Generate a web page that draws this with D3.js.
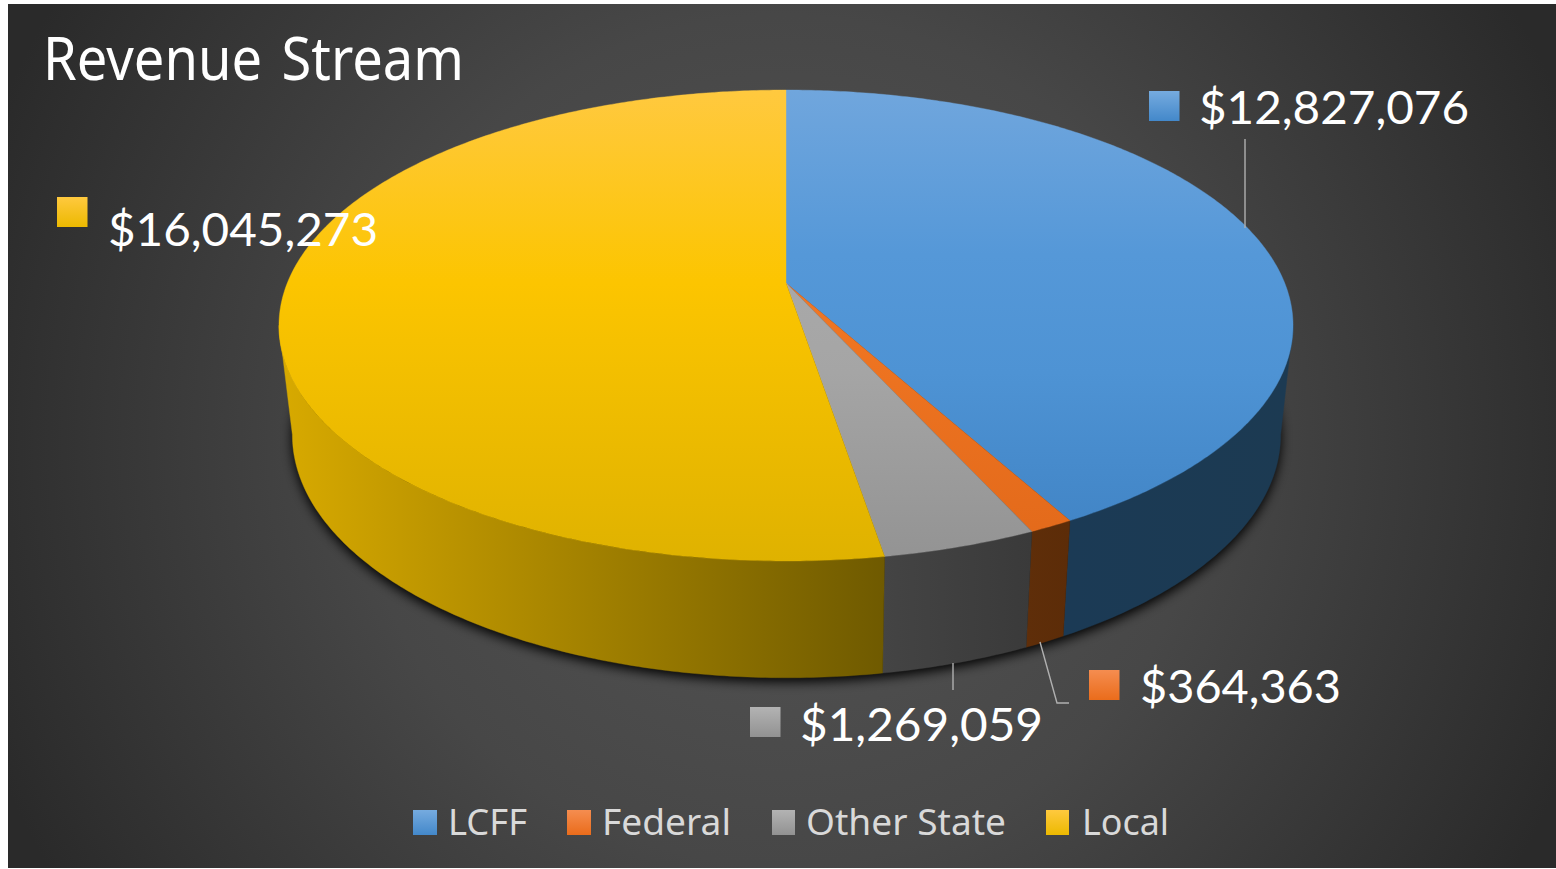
<!DOCTYPE html>
<html><head><meta charset="utf-8">
<script src="https://cdn.jsdelivr.net/npm/d3@7/dist/d3.min.js"></script>
<style>html,body{margin:0;padding:0;background:#fff;overflow:hidden}svg{display:block}</style>
</head><body><svg id="c" width="1556" height="869"></svg>
<script>
const categories = ["LCFF","Federal","Other State","Local"];
const values = [12827076,364363,1269059,16045273];
const valueLabels = ["$12,827,076","$364,363","$1,269,059","$16,045,273"];
const title = "Revenue Stream";

const topColors = [
 [["0","#70a6dd"],["0.35","#5598d8"],["0.6","#4e93d4"],["1","#3f82c3"]],
 [["0","#f4853f"],["0.5","#ef7522"],["1","#e2691a"]],
 [["0","#b0b0b0"],["0.6","#a5a5a5"],["1","#939393"]],
 [["0","#ffc93f"],["0.41","#fcc500"],["1","#dfb200"]]
];
const sideColors = [["#1b3a55","#1c3a52"],["#5f2e09","#5c2c08"],["#444444","#3a3a3a"],["#d8aa00","#6f5a00"]];
const swatchColors = [["#76abdf","#4388ca"],["#f58d50","#ea6c1b"],["#b3b3b3","#929292"],["#ffc93f","#ecb900"]];

const labelBoxes = [
 {sw:[1149,91],tx:1199,ty:124,w:270},
 {sw:[1089,670],tx:1140,ty:703,w:201},
 {sw:[750,707],tx:800,ty:741,w:243},
 {sw:[57,197],tx:108,ty:246,w:270}
];
const leaders = [
 [[1245,139],[1245,228]],
 [[1040,642],[1057,703],[1069,703]],
 [[953,663],[953,690]]
];
const legendBoxes = [
 {sx:413,sw:24,tx:448,w:79},
 {sx:567,sw:24,tx:602,w:129},
 {sx:772,sw:23,tx:806,w:200},
 {sx:1046,sw:23,tx:1082,w:87}
];

const svg = d3.select("#c");
const defs = svg.append("defs");

function linGrad(id, stops, attrs){
  const g = defs.append("linearGradient").attr("id",id);
  Object.entries(attrs).forEach(([k,v])=>g.attr(k,v));
  stops.forEach(s=>g.append("stop").attr("offset",s[0]).attr("stop-color",s[1]));
}
const bg = defs.append("radialGradient").attr("id","bg")
  .attr("gradientUnits","userSpaceOnUse").attr("cx",782).attr("cy",440).attr("r",850);
[[0,"#555555"],[0.5,"#474747"],[1,"#2a2a2a"]].forEach(s=>bg.append("stop").attr("offset",s[0]).attr("stop-color",s[1]));
defs.append("filter").attr("id","blur").attr("x","-10%").attr("y","-10%").attr("width","120%").attr("height","120%")
  .append("feGaussianBlur").attr("stdDeviation",6);

svg.append("rect").attr("x",8).attr("y",4).attr("width",1548).attr("height",864).attr("fill","url(#bg)");

// perspective projection of the pie's disc
const K = 0.1805;
const topDisc = {cx:786, cy:283, a:498.7, b:227.8};
const botDisc = {cx:786.5, cy:391, a:486, b:235};
const project = (d, ang) => {
  const u = Math.sin(ang), v = Math.cos(ang), w = 1 + K*v;
  return [d.cx + d.a*u/w, d.cy - d.b*v/w];
};
const arcPts = (d, a0, a1) => {
  const n = Math.max(2, Math.ceil((a1-a0)/0.01));
  return d3.range(n+1).map(i => project(d, a0 + (a1-a0)*i/n));
};
const line = d3.line();
const arcs = d3.pie().sort(null).startAngle(0).endAngle(2*Math.PI)(values);

// shadow
const full = arcPts(botDisc, 0, 2*Math.PI);
svg.append("path").attr("d", line(full.map(p=>[p[0],p[1]+4]))+"Z").attr("fill","#000").attr("opacity",1).attr("filter","url(#blur)");

// side walls
const vis0 = Math.acos(-K), vis1 = 2*Math.PI - vis0;
arcs.forEach((d,i)=>{
  const a0 = Math.max(d.startAngle, vis0), a1 = Math.min(d.endAngle, vis1);
  if (a1 <= a0) return;
  const t = arcPts(topDisc,a0,a1), b = arcPts(botDisc,a0,a1).reverse();
  const xs = t.concat(b).map(p=>p[0]);
  linGrad("side"+i, [[0,sideColors[i][0]],[1,sideColors[i][1]]],
    {gradientUnits:"userSpaceOnUse",x1:d3.min(xs),x2:d3.max(xs),y1:0,y2:0});
  svg.append("path").attr("d",line(t.concat(b))+"Z").attr("fill",`url(#side${i})`)
    .attr("stroke",`url(#side${i})`).attr("stroke-width",0.4);
});

// top slices
arcs.forEach((d,i)=>{
  linGrad("top"+i, topColors[i], {gradientUnits:"userSpaceOnUse",x1:0,x2:0,y1:90,y2:561});
  const pts = [[topDisc.cx,topDisc.cy]].concat(arcPts(topDisc,d.startAngle,d.endAngle));
  svg.append("path").attr("d",line(pts)+"Z").attr("fill",`url(#top${i})`)
    .attr("stroke",`url(#top${i})`).attr("stroke-width",0.4);
});

// leaders
leaders.forEach(l=>svg.append("path").attr("d",line(l)).attr("fill","none").attr("stroke","#b0b0b0").attr("stroke-width",1.4));

// swatch gradients
swatchColors.forEach((c,i)=>linGrad("sw"+i,[[0,c[0]],[1,c[1]]],{x1:0,x2:0,y1:0,y2:1}));

// data labels
labelBoxes.forEach((b,i)=>{
  svg.append("rect").attr("x",b.sw[0]).attr("y",b.sw[1]).attr("width",30.5).attr("height",30).attr("fill",`url(#sw${i})`);
  svg.append("text").attr("x",b.tx).attr("y",b.ty).text(valueLabels[i])
    .attr("font-family","Lato").attr("font-size",47).attr("fill","#fff")
    .attr("textLength",b.w).attr("lengthAdjust","spacingAndGlyphs");
});

// title
svg.append("text").attr("x",43).attr("y",80).text(title)
  .attr("font-family","'Noto Sans'").attr("font-size",60).attr("fill","#fff")
  .attr("word-spacing",6)
  .attr("textLength",421).attr("lengthAdjust","spacingAndGlyphs");

// legend
categories.forEach((c,i)=>{
  const b = legendBoxes[i];
  svg.append("rect").attr("x",b.sx).attr("y",810).attr("width",b.sw).attr("height",25).attr("fill",`url(#sw${i})`);
  svg.append("text").attr("x",b.tx).attr("y",835).text(c)
    .attr("font-family","'Noto Sans'").attr("font-size",37).attr("fill","#d9d9d9")
    .attr("textLength",b.w).attr("lengthAdjust","spacingAndGlyphs");
});
</script></body></html>
